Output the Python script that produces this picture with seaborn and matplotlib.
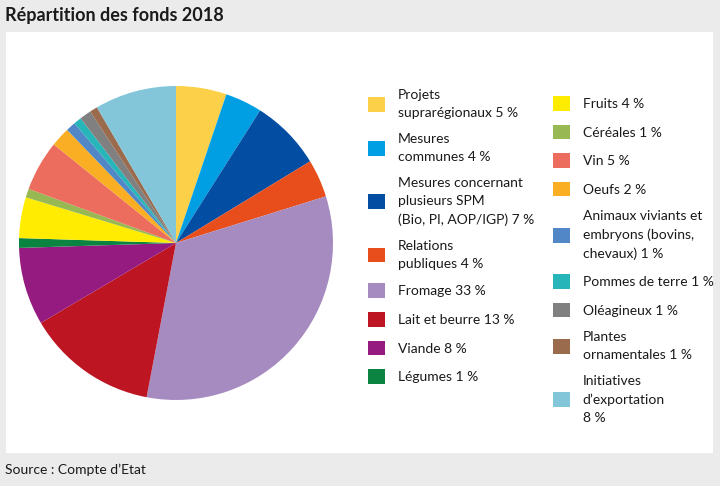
import matplotlib
matplotlib.use('Agg')
import matplotlib.pyplot as plt
import matplotlib.patches as mpatches
import seaborn as sns

sns.set_theme(style='white')
plt.rcParams['font.family'] = ['Lato', 'DejaVu Sans']

# Data (shares of funds, %), clockwise from 12 o'clock
labels = [
    'Projets\nsuprarégionaux 5 %',
    'Mesures\ncommunes 4 %',
    'Mesures concernant\nplusieurs SPM\n(Bio, PI, AOP/IGP) 7 %',
    'Relations\npubliques 4 %',
    'Fromage 33 %',
    'Lait et beurre 13 %',
    'Viande 8 %',
    'Légumes 1 %',
    'Fruits 4 %',
    'Céréales 1 %',
    'Vin 5 %',
    'Oeufs 2 %',
    'Animaux viviants et\nembryons (bovins,\nchevaux) 1 %',
    'Pommes de terre 1 %',
    'Oléagineux 1 %',
    'Plantes\nornamentales 1 %',
    'Initiatives\nd’exportation\n8 %',
]
values = [5.2, 3.8, 7.3, 3.9, 32.8, 13.5, 8.0, 1.0, 4.2, 0.9, 5.2, 2.0, 1.0, 0.8, 1.2, 0.8, 8.4]
colors = ['#fdd04a', '#009fe3', '#034ea2', '#e84e1b', '#a68bc1', '#bd1622', '#951b81', '#0b8442',
          '#ffec00', '#97b853', '#ec6d5e', '#f9ae24', '#5187c6', '#26b5b8', '#808080', '#9a6b4d',
          '#83c6d9']

W, H = 720, 486
fig = plt.figure(figsize=(7.2, 4.86), dpi=100)
fig.patch.set_facecolor('#ebebeb')

# white panel behind everything
fig.patches.append(mpatches.Rectangle((6 / W, 1 - 453 / H), (713 - 6) / W, (453 - 32) / H,
                                      transform=fig.transFigure, facecolor='white',
                                      edgecolor='none', zorder=-5))

ax = fig.add_axes([19 / W, 1 - 400 / H, 314 / W, 314 / H])
ax.set_zorder(2)
ax.patch.set_visible(False)
wedges, _ = ax.pie(values, colors=colors, startangle=90, counterclock=False,
                   radius=1, wedgeprops=dict(linewidth=0))
ax.set_xlim(-1, 1)
ax.set_ylim(-1, 1)
ax.set_aspect('equal')
ax.axis('off')

leg_kw = dict(loc='upper left', frameon=False, fontsize=10, borderpad=0, borderaxespad=0,
              handlelength=1.25, handleheight=1.25, handletextpad=0.9, labelspacing=1.0)
n1 = 8
leg1 = fig.legend(wedges[:n1], labels[:n1], bbox_to_anchor=(368 / W, 1 - 89 / H), **leg_kw)
leg2 = fig.legend(wedges[n1:], labels[n1:], bbox_to_anchor=(553 / W, 1 - 96 / H), **leg_kw)
for leg in (leg1, leg2):
    leg.set_zorder(3)
    for t in leg.get_texts():
        t.set_color('#1a1a1a')
        t.set_linespacing(1.6)

fig.text(5 / W, 1 - 16 / H, 'Répartition des fonds 2018', fontsize=13, fontweight='bold',
         color='#1a1a1a', va='center', ha='left')
fig.text(5 / W, 1 - 470 / H, 'Source : Compte d’Etat', fontsize=10, color='#1a1a1a',
         va='center', ha='left')

fig.savefig('out.png', dpi=100, facecolor=fig.get_facecolor())
